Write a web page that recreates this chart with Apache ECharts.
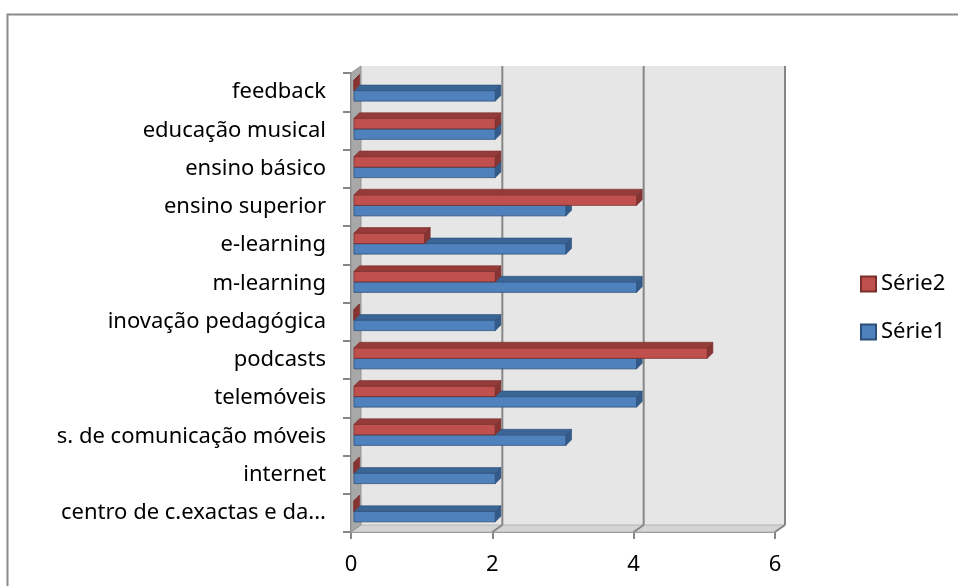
<!DOCTYPE html>
<html>
<head>
<meta charset="utf-8">
<script src="https://cdn.jsdelivr.net/npm/echarts@6/dist/echarts.min.js"></script>
<style>
  html, body { margin: 0; padding: 0; background: #ffffff; }
  #chart { width: 958px; height: 586px; }
</style>
</head>
<body>
<div id="chart"></div>
<script>
// Categories, top to bottom
const categories = [
  'feedback',
  'educação musical',
  'ensino básico',
  'ensino superior',
  'e-learning',
  'm-learning',
  'inovação pedagógica',
  'podcasts',
  'telemóveis',
  's. de comunicação móveis',
  'internet',
  'centro de c.exactas e da...'
];
const serie1 = [2, 2, 2, 3, 3, 4, 2, 4, 4, 3, 2, 2];
const serie2 = [0, 2, 2, 4, 1, 2, 0, 5, 2, 2, 0, 0];
const xTicks = [0, 2, 4, 6];

const FONT = 'Noto Sans';
const AXIS_GREY = '#868686';

// depth of the 3D walls (back plane offset)
const WALL_DX = 10, WALL_DY = -7;

function renderWalls(params, api) {
  const band = api.size([0, 1])[1];
  const n = categories.length;
  const top = api.coord([0, 0])[1] - band / 2;
  const bottom = api.coord([0, n - 1])[1] + band / 2;
  const xAt = v => api.coord([v, 0])[0];
  const x0 = xAt(xTicks[0]);
  const xMax = xAt(xTicks[xTicks.length - 1]);
  const children = [
    { type: 'rect', shape: { x: x0 + WALL_DX, y: top + WALL_DY, width: xMax - x0, height: bottom - top },
      style: { fill: '#e6e6e6' } },
    { type: 'polygon', shape: { points: [[x0, bottom], [x0 + WALL_DX, bottom + WALL_DY], [xMax + WALL_DX, bottom + WALL_DY], [xMax, bottom]] },
      style: { fill: '#d4d4d4', stroke: '#b4b4b4', lineWidth: 1 } },
    { type: 'polygon', shape: { points: [[x0, top], [x0 + WALL_DX, top + WALL_DY], [x0 + WALL_DX, bottom + WALL_DY], [x0, bottom]] },
      style: { fill: '#a8a8a8', stroke: '#959595', lineWidth: 1 } }
  ];
  xTicks.forEach(t => {
    if (t === 0) return;
    const x = xAt(t);
    children.push({ type: 'line', shape: { x1: x + WALL_DX, y1: top + WALL_DY, x2: x + WALL_DX, y2: bottom + WALL_DY },
      style: { stroke: AXIS_GREY, lineWidth: 2 } });
    children.push({ type: 'line', shape: { x1: x, y1: bottom, x2: x + WALL_DX, y2: bottom + WALL_DY },
      style: { stroke: AXIS_GREY, lineWidth: 2 } });
  });
  return { type: 'group', children };
}

// 3D bar: front face, top face and right end cap
function barRenderer(upper, colors) {
  return function (params, api) {
    const v = api.value(0), c = api.value(1);
    const band = api.size([0, 1])[1];
    const start = api.coord([0, c]);
    const end = api.coord([v, c]);
    const h = band * 0.275;
    const d = band * 0.145;
    const shift = 3;
    const yTop = start[1] - band * 0.04 - (upper ? h : 0);
    const x0 = start[0] + shift, x1 = end[0] + shift;
    return {
      type: 'group',
      children: [
        { type: 'rect', shape: { x: x0, y: yTop, width: x1 - x0, height: h },
          style: { fill: colors.front, stroke: colors.edge, lineWidth: 0.8 } },
        { type: 'polygon', shape: { points: [[x0, yTop], [x0 + d, yTop - d], [x1 + d, yTop - d], [x1, yTop]] },
          style: { fill: colors.top, stroke: colors.edge, lineWidth: 0.6 } },
        { type: 'polygon', shape: { points: [[x1, yTop], [x1 + d, yTop - d], [x1 + d, yTop + h - d], [x1, yTop + h]] },
          style: { fill: colors.side, stroke: colors.edge, lineWidth: 0.6 } }
      ]
    };
  };
}

const blue = { front: '#4f81bd', top: '#3a6595', side: '#335a88', edge: '#2c4f7a' };
const red = { front: '#c0504d', top: '#953c3a', side: '#853432', edge: '#7a2e2c' };

const chart = echarts.init(document.getElementById('chart'), null, { renderer: 'canvas' });

chart.setOption({
  animation: false,
  backgroundColor: '#ffffff',
  graphic: [{
    type: 'rect', left: 5, top: 12, silent: true,
    shape: { width: 1000, height: 1000 },
    style: { fill: 'none', stroke: '#8a8a8a', lineWidth: 2 }
  }],
  grid: { left: 351, right: 183, top: 73, bottom: 54, containLabel: false },
  legend: {
    orient: 'vertical',
    left: 855,
    top: 268,
    itemWidth: 15,
    itemHeight: 15,
    itemGap: 26,
    icon: 'rect',
    data: ['Série2', 'Série1'],
    textStyle: { fontFamily: FONT, fontSize: 22, color: '#000' }
  },
  xAxis: {
    type: 'value',
    min: 0,
    max: 6,
    interval: 2,
    axisLine: { show: true, lineStyle: { color: AXIS_GREY, width: 2 } },
    axisTick: { show: true, length: 7, lineStyle: { color: AXIS_GREY, width: 2 } },
    axisLabel: { fontFamily: FONT, fontSize: 22, color: '#000', margin: 22 },
    splitLine: { show: false }
  },
  yAxis: {
    type: 'category',
    inverse: true,
    data: categories,
    axisLine: { show: true, lineStyle: { color: AXIS_GREY, width: 2 } },
    axisTick: { show: true, length: 8, lineStyle: { color: AXIS_GREY, width: 2 } },
    axisLabel: { fontFamily: FONT, fontSize: 22, color: '#000', margin: 25 },
    splitLine: { show: false }
  },
  series: [
    {
      name: 'walls', type: 'custom', silent: true, clip: false, z: 1,
      renderItem: renderWalls,
      data: [[0, 0]],
      encode: { x: 0, y: 1 }
    },
    {
      name: 'Série1', type: 'custom', clip: false, z: 2,
      itemStyle: { color: blue.front, borderColor: blue.edge, borderWidth: 1 },
      renderItem: barRenderer(false, blue),
      data: serie1.map((v, i) => [v, i]),
      encode: { x: 0, y: 1 }
    },
    {
      name: 'Série2', type: 'custom', clip: false, z: 3,
      itemStyle: { color: red.front, borderColor: red.edge, borderWidth: 1 },
      renderItem: barRenderer(true, red),
      data: serie2.map((v, i) => [v, i]),
      encode: { x: 0, y: 1 }
    }
  ]
});
</script>
</body>
</html>
